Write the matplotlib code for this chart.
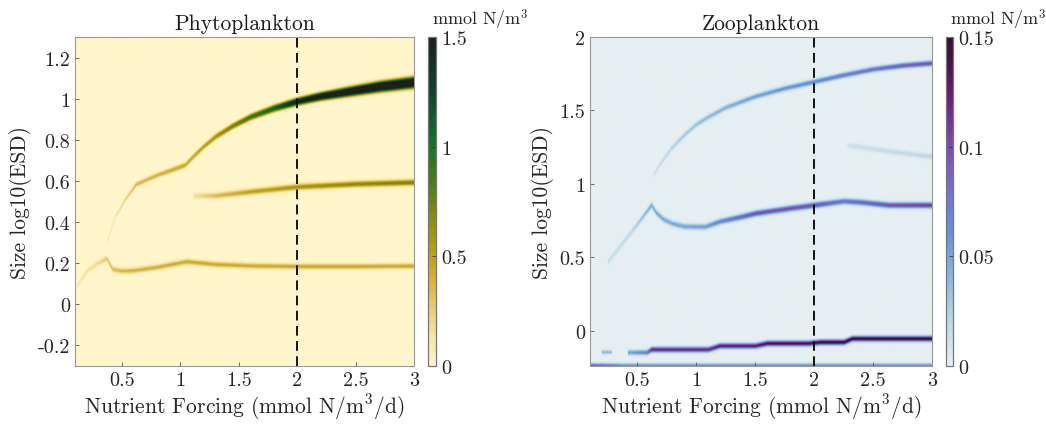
import numpy as np
import matplotlib
matplotlib.use('Agg')
import matplotlib.pyplot as plt
from matplotlib.colors import LinearSegmentedColormap
from matplotlib.ticker import FuncFormatter

plt.rcParams['font.family'] = 'cmr10'
plt.rcParams['mathtext.fontset'] = 'cm'
plt.rcParams['axes.unicode_minus'] = False

# --- ridge data: forcing knots, size (log10 ESD), peak concentration
# phytoplankton (mmol N/m^3)
phy_a_x = [0.12, 0.2, 0.3, 0.37, 0.42, 0.5, 0.6, 0.8, 1.05, 1.3, 1.6, 2.0, 2.5, 3.0]
phy_a_y = [0.09, 0.16, 0.2, 0.22, 0.168, 0.16, 0.162, 0.178, 0.205, 0.192, 0.185, 0.182, 0.182, 0.184]
phy_a_v = [0.12, 0.16, 0.2, 0.3, 0.35, 0.38, 0.4, 0.42, 0.45, 0.45, 0.45, 0.45, 0.45, 0.45]

phy_b_x = [0.37, 0.44, 0.52, 0.62, 0.8, 0.95, 1.04, 1.1, 1.2, 1.3, 1.45, 1.6, 1.8,
           2.0, 2.2, 2.44, 2.7, 3.0]
phy_b_y = [0.3, 0.42, 0.5, 0.58, 0.625, 0.655, 0.674, 0.71, 0.765, 0.812, 0.865, 0.908,
           0.95, 0.983, 1.008, 1.031, 1.055, 1.076]
phy_b_v = [0.1, 0.15, 0.22, 0.35, 0.4, 0.43, 0.45, 0.45, 0.5, 0.58, 0.75, 0.9, 1.1,
           1.5, 1.7, 1.85, 1.95, 2.0]
phy_b_w = [0.008, 0.008, 0.008, 0.009, 0.009, 0.01, 0.01, 0.01, 0.01, 0.011, 0.011,
           0.012, 0.013, 0.014, 0.015, 0.017, 0.019, 0.02]

phy_c_x = [1.11, 1.3, 1.6, 2.0, 2.5, 3.0]
phy_c_y = [0.525, 0.525, 0.545, 0.568, 0.582, 0.59]
phy_c_v = [0.15, 0.35, 0.5, 0.6, 0.7, 0.75]

# zooplankton (mmol N/m^3)
zoo_a_x = [0.637, 0.7, 0.79, 0.9, 1.0, 1.1, 1.25, 1.5, 1.75, 2.0, 2.25, 2.5, 2.75, 3.0]
zoo_a_y = [1.055, 1.14, 1.24, 1.33, 1.4, 1.45, 1.515, 1.59, 1.645, 1.69, 1.735, 1.775,
           1.8, 1.816]
zoo_a_v = [0.012, 0.016, 0.022, 0.03, 0.036, 0.04, 0.046, 0.054, 0.06, 0.068, 0.075,
           0.082, 0.092, 0.1]

zoo_b_x = [0.25, 0.45, 0.62, 0.66, 0.72, 0.8, 0.9, 1.075, 1.2, 1.4, 1.5, 1.8, 2.0, 2.25,
           2.4, 2.63, 3.0]
zoo_b_y = [0.466, 0.67, 0.851, 0.8, 0.755, 0.725, 0.706, 0.704, 0.74, 0.775, 0.795, 0.83,
           0.851, 0.878, 0.87, 0.851, 0.851]
zoo_b_v = [0.015, 0.02, 0.05, 0.05, 0.05, 0.05, 0.05, 0.055, 0.07, 0.09, 0.1, 0.1, 0.1,
           0.08, 0.09, 0.1, 0.11]

zoo_c_x = [2.28, 2.6, 3.0]
zoo_c_y = [1.26, 1.22, 1.18]
zoo_c_v = [0.012, 0.016, 0.02]

zoo_d_x = [0.2, 0.28]
zoo_d_y = [-0.147, -0.147]
zoo_d_v = [0.04, 0.04]

zoo_e_x = [0.42, 0.58, 0.62, 1.1, 1.2, 1.5, 1.6, 1.95, 2.05, 2.25, 2.32, 3.0]
zoo_e_y = [-0.15, -0.15, -0.13, -0.13, -0.105, -0.105, -0.088, -0.088, -0.08, -0.08, -0.056, -0.056]
zoo_e_v = [0.05, 0.07, 0.12, 0.12, 0.13, 0.13, 0.14, 0.14, 0.15, 0.15, 0.15, 0.15]

zoo_f_x = [0.1, 0.4, 3.0]
zoo_f_y = [-0.238, -0.238, -0.238]
zoo_f_v = [0.09, 0.06, 0.06]

forcing = np.linspace(0.1, 3.0, 581)
phy_size = np.linspace(-0.3, 1.3, 641)
zoo_size = np.linspace(-0.24, 2.0, 897)


def ridge(xs, ys, vs, ws, sizes, p=2.0):
    yc = np.interp(forcing, xs, ys)
    amp = np.interp(forcing, xs, vs)
    w = np.interp(forcing, xs, ws) if np.ndim(ws) else ws
    on = (forcing >= xs[0]) & (forcing <= xs[-1])
    return amp * on * np.exp(-0.5 * np.abs((sizes[:, None] - yc) / w) ** p)


phy = (ridge(phy_a_x, phy_a_y, phy_a_v, 0.009, phy_size)
       + ridge(phy_b_x, phy_b_y, phy_b_v, phy_b_w, phy_size, p=2.6)
       + ridge(phy_c_x, phy_c_y, phy_c_v, 0.01, phy_size))
zoo = (ridge(zoo_a_x, zoo_a_y, zoo_a_v, 0.012, zoo_size)
       + ridge(zoo_b_x, zoo_b_y, zoo_b_v, 0.013, zoo_size)
       + ridge(zoo_c_x, zoo_c_y, zoo_c_v, 0.013, zoo_size)
       + ridge(zoo_d_x, zoo_d_y, zoo_d_v, 0.009, zoo_size)
       + ridge(zoo_e_x, zoo_e_y, zoo_e_v, 0.012, zoo_size)
       + ridge(zoo_f_x, zoo_f_y, zoo_f_v, 0.01, zoo_size))

speed = LinearSegmentedColormap.from_list('speed', [
    (0.0, '#FFF6CB'), (0.1, '#F6E1A0'), (0.2, '#E5C462'), (0.33, '#C1A40A'),
    (0.45, '#8A8E0C'), (0.55, '#4F8014'), (0.67, '#137623'), (0.8, '#0D4F30'),
    (0.9, '#11352A'), (1.0, '#1A211A')])
dense = LinearSegmentedColormap.from_list('dense', [
    (0.0, '#E6EFF1'), (0.15, '#B5D5E1'), (0.3, '#7FB0E0'), (0.4, '#6892E0'),
    (0.5, '#7479D6'), (0.6, '#7A5FC2'), (0.7, '#7A42A6'), (0.8, '#6C2283'),
    (0.9, '#52135A'), (1.0, '#341125')])

fig = plt.figure(figsize=(10.46, 4.27), dpi=100)
fmt = FuncFormatter(lambda v, p: '%g' % round(v, 4))

panels = [
    ([0.0717, 0.1405, 0.3241, 0.7705], [0.4092, 0.1405, 0.0076, 0.7705], phy, phy_size,
     speed, 1.5, 'Phytoplankton', [-0.2, 0, 0.2, 0.4, 0.6, 0.8, 1, 1.2], [0, 0.5, 1, 1.5]),
    ([0.5641, 0.1405, 0.3270, 0.7705], [0.9044, 0.1405, 0.0067, 0.7705], zoo, zoo_size,
     dense, 0.15, 'Zooplankton', [0, 0.5, 1, 1.5, 2], [0, 0.05, 0.1, 0.15]),
]

for ax_pos, cb_pos, field, sizes, cmap, vmax, title, yticks, cticks in panels:
    ax = fig.add_axes(ax_pos)
    im = ax.imshow(np.minimum(field, vmax), origin='lower', aspect='auto', cmap=cmap,
                   vmin=0, vmax=vmax,
                   extent=[forcing[0], forcing[-1], sizes[0], sizes[-1]],
                   interpolation='antialiased')
    ax.axvline(2, color='#111111', lw=1.4, dashes=(5, 2.8))
    ax.set_xlim(0.1, 3.0)
    ax.set_ylim(sizes[0], sizes[-1])
    ax.set_xticks([0.5, 1, 1.5, 2, 2.5, 3])
    ax.set_yticks(yticks)
    ax.xaxis.set_major_formatter(fmt)
    ax.yaxis.set_major_formatter(fmt)
    ax.tick_params(direction='in', length=3, width=0.6, color='#555555',
                   labelsize=14.5, labelcolor='#262626')
    for s in ax.spines.values():
        s.set_color('#999999')
        s.set_linewidth(0.8)
    ax.set_title(title, fontsize=15.5, color='#1a1a1a', pad=6)
    ax.set_xlabel('Nutrient Forcing (mmol N/m$^3$/d)', fontsize=15.5, color='#262626',
                  labelpad=2)
    ax.set_ylabel('Size log10(ESD)', fontsize=15.5, color='#262626', labelpad=4)

    cax = fig.add_axes(cb_pos)
    cb = fig.colorbar(im, cax=cax, ticks=cticks)
    cb.ax.yaxis.set_major_formatter(fmt)
    cb.ax.tick_params(direction='in', length=3, width=0.6, color='#333333',
                      labelsize=14.5, labelcolor='#262626')
    cb.outline.set_edgecolor('#777777')
    cb.outline.set_linewidth(0.9)
    fig.text(cb_pos[0] + 0.004, 0.9415, 'mmol N/m$^3$', fontsize=13,
             color='#262626', va='baseline', ha='left')

fig.savefig('out.png', dpi=100)
